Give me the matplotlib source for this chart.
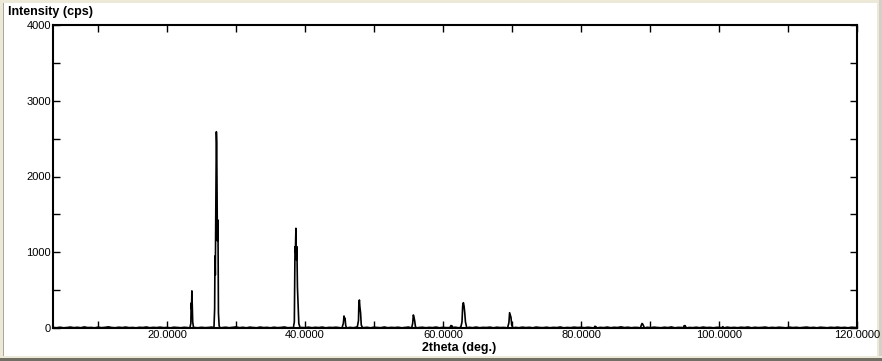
import matplotlib
matplotlib.use('Agg')
from matplotlib import pyplot as plt
from matplotlib.patches import Rectangle
from matplotlib.ticker import MultipleLocator, FormatStrFormatter

# diffraction pattern (2theta in deg., intensity in cps)
two_theta = [
    3.4, 4.0, 4.5, 5.0, 5.5, 6.0, 6.5, 7.0, 7.5, 8.0, 8.5, 9.0, 9.5, 10.0, 10.5,
    11.0, 11.5, 12.0, 12.5, 13.0, 13.5, 14.0, 14.5, 15.0, 15.5, 16.0, 16.5, 17.0,
    17.5, 18.0, 18.5, 19.0, 19.5, 20.0, 20.5, 21.0, 21.5, 22.0, 22.5, 23.0,
    23.3, 23.45, 23.5, 23.55, 23.6, 23.65, 23.72, 23.85,
    24.0, 24.5, 25.0, 25.5, 26.0, 26.5,
    26.8, 26.9, 26.95, 27.0, 27.15, 27.2, 27.3, 27.38, 27.45, 27.55, 27.7,
    28.0, 28.5, 29.0, 29.5, 30.0, 30.5, 31.0, 31.5, 32.0, 32.5, 33.0, 33.5, 34.0,
    34.5, 35.0, 35.5, 36.0, 36.5, 37.0, 37.5, 38.0,
    38.3, 38.45, 38.55, 38.6, 38.68, 38.75, 38.82, 38.9, 39.0, 39.1, 39.3,
    39.5, 40.0, 40.5, 41.0, 41.5, 42.0, 42.5, 43.0, 43.5, 44.0, 44.5, 45.0,
    45.35, 45.55, 45.65, 45.72, 45.8, 45.9, 46.05,
    46.5, 47.0, 47.4,
    47.55, 47.75, 47.8, 47.88, 47.95, 48.05, 48.15, 48.35,
    48.5, 49.0, 49.5, 50.0, 50.5, 51.0, 51.5, 52.0, 52.5, 53.0, 53.5, 54.0, 54.5,
    55.0, 55.3,
    55.45, 55.6, 55.7, 55.8, 55.9, 56.0, 56.15,
    56.5, 57.0, 57.5, 58.0, 58.5, 59.0, 59.5, 60.0, 60.5,
    61.0, 61.15, 61.3, 61.4,
    61.8, 62.2, 62.5,
    62.55, 62.75, 62.85, 62.95, 63.05, 63.15, 63.25, 63.45,
    63.8, 64.3, 64.8, 65.3, 65.8, 66.3, 66.8, 67.3, 67.8, 68.3, 68.8, 69.2,
    69.35, 69.55, 69.65, 69.75, 69.85, 69.95, 70.15,
    70.5, 71.0, 71.5, 72.0, 72.5, 73.0, 73.5, 74.0, 74.5, 75.0, 75.5, 76.0, 76.5,
    77.0, 77.5, 78.0, 78.5, 79.0, 79.5, 80.0, 80.5, 81.0, 81.5,
    81.9, 82.0, 82.15, 82.3,
    82.8, 83.3, 83.8, 84.3, 84.8, 85.3, 85.8, 86.3, 86.8, 87.3, 87.8, 88.3,
    88.6, 88.75, 88.85, 88.95, 89.1, 89.2,
    89.6, 90.1, 90.6, 91.1, 91.6, 92.1, 92.6, 93.1, 93.6, 94.1, 94.6,
    94.8, 94.95, 95.1, 95.25,
    95.7, 96.2, 96.7, 97.2, 97.7, 98.2, 98.7, 99.2, 99.7, 100.2,
    100.4, 100.55, 100.7,
    101.2, 101.7, 102.2, 102.7, 103.2, 103.7, 104.2, 104.7, 105.2, 105.7, 106.2,
    106.7, 107.2, 107.7, 108.2, 108.7, 109.2, 109.7, 110.2, 110.7, 111.2, 111.7,
    112.2, 112.7, 113.2, 113.7, 114.2, 114.7, 115.2, 115.7, 116.2, 116.7, 117.2,
    117.7, 118.2, 118.7, 119.2, 119.7, 120.0,
]
intensity = [
    8, 3, 10, 2, 6, 12, 4, 9, 3, 14, 5, 7, 2, 11, 4,
    8, 15, 6, 3, 10, 5, 12, 4, 7, 2, 9, 6, 13,
    3, 8, 5, 11, 4, 7, 2, 10, 6, 3, 9, 5,
    0, 60, 330, 250, 490, 300, 80, 0,
    6, 3, 9, 4, 7, 12,
    0, 250, 950, 700, 2590, 2440, 1150, 1425, 200, 30, 0,
    5, 10, 3, 8, 14, 4, 9, 2, 11, 6, 3, 12, 5,
    8, 2, 10, 4, 7, 13, 3, 6,
    0, 80, 1073, 1000, 1316, 900, 1073, 540, 300, 60, 0,
    7, 4, 11, 3, 9, 5, 12, 2, 8, 6, 10, 4,
    0, 60, 158, 110, 130, 30, 0,
    8, 3, 10,
    0, 100, 310, 370, 280, 200, 40, 0,
    5, 9, 2, 11, 6, 4, 13, 3, 8, 5, 10, 2, 7,
    12, 4,
    0, 60, 172, 140, 90, 20, 0,
    6, 10, 3, 8, 5, 12, 2, 9, 4,
    5, 32, 28, 6,
    10, 3, 7,
    0, 80, 290, 334, 290, 200, 80, 0,
    9, 4, 12, 3, 8, 6, 11, 2, 10, 5, 7, 3,
    0, 70, 202, 170, 140, 40, 0,
    8, 3, 11, 5, 9, 2, 12, 6, 4, 10, 3, 8, 5,
    13, 2, 7, 4, 11, 6, 9, 3, 10, 5,
    0, 22, 18, 0,
    8, 4, 12, 3, 9, 6, 15, 5, 10, 3, 8, 6,
    0, 40, 60, 50, 20, 0,
    9, 4, 11, 6, 3, 10, 5, 14, 2, 8, 6,
    0, 30, 30, 0,
    7, 4, 10, 3, 12, 5, 8, 2, 9, 6,
    0, 18, 0,
    11, 4, 8, 3, 10, 6, 13, 2, 9, 5, 7,
    12, 3, 8, 4, 10, 6, 2, 11, 5, 9, 3,
    7, 12, 4, 8, 2, 10, 6, 3, 9, 5, 11,
    4, 8, 2, 10, 6, 5,
]

x_min, x_max = 3.4, 120.0
y_min, y_max = 0, 4000

W, H = 882, 361
fig = plt.figure(figsize=(W / 100, H / 100), dpi=100, facecolor='white')

# axes box placed in pixel terms (left 52.5, right 857, top 25, bottom 328)
ax = fig.add_axes([52.5 / W, 1 - 328 / H, (857 - 52.5) / W, (328 - 25) / H])
ax.plot(two_theta, intensity, color='black', linewidth=1.2)

ax.set_xlim(x_min, x_max)
ax.set_ylim(y_min, y_max)
ax.xaxis.set_major_locator(MultipleLocator(20))
ax.xaxis.set_minor_locator(MultipleLocator(10))
ax.yaxis.set_major_locator(MultipleLocator(1000))
ax.yaxis.set_minor_locator(MultipleLocator(500))
ax.xaxis.set_major_formatter(FormatStrFormatter('%.4f'))

tick_font = 'Liberation Sans'
ax.tick_params(which='both', direction='in', length=5, width=1,
               top=True, right=True, colors='black')
ax.tick_params(axis='x', which='major', pad=1.5, labelsize=8)
ax.tick_params(axis='y', which='major', pad=1, labelsize=8)
for lbl in ax.get_xticklabels() + ax.get_yticklabels():
    lbl.set_fontfamily(tick_font)

for sp in ax.spines.values():
    sp.set_linewidth(1.5)
    sp.set_color('black')

fig.text(8 / W, 1 - 12 / H, 'Intensity (cps)', fontsize=9, fontweight='bold',
         family=tick_font, ha='left', va='center')
fig.text(459 / W, 1 - 348.5 / H, '2theta (deg.)', fontsize=9, fontweight='bold',
         family=tick_font, ha='center', va='center')

# window frame around the capture
def px_rect(x0, y0, w, h, color):
    fig.patches.append(Rectangle((x0 / W, 1 - (y0 + h) / H), w / W, h / H,
                                 transform=fig.transFigure, facecolor=color,
                                 edgecolor='none', zorder=-1))

px_rect(0, 0, W, 3, '#ECE9D8')
px_rect(0, 0, 3, H, '#ECE9D8')
px_rect(3, 3, 1, H - 6, '#ACA899')
px_rect(877, 0, 5, H, '#ECE9D8')
px_rect(879, 0, 3, H, '#D4D0C8')
px_rect(0, 356, W, 2, '#ECE9D8')
px_rect(0, 358, W, 3, '#716F64')

fig.savefig('out.png', dpi=100, facecolor=fig.get_facecolor())
